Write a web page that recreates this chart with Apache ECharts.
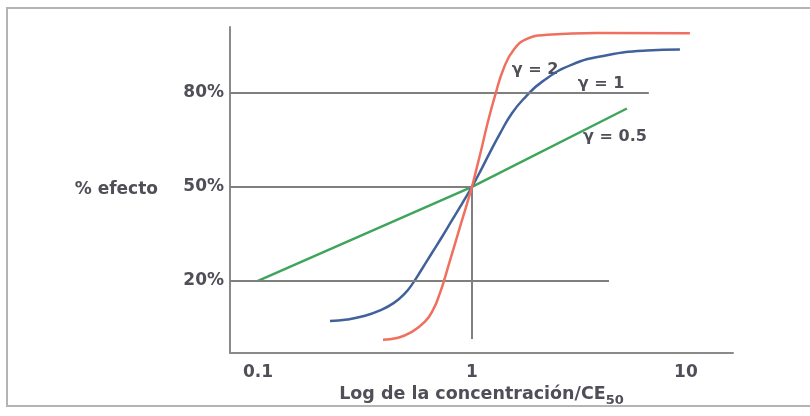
<!DOCTYPE html>
<html>
<head>
<meta charset="utf-8">
<script src="https://cdn.jsdelivr.net/npm/echarts@6/dist/echarts.min.js"></script>
<style>html,body{margin:0;padding:0;background:#fff;}#c{width:810px;height:416px;}</style>
</head>
<body>
<div id="c"></div>
<script>
// Axis extents
const xMin = 0.074, xMax = 16.6;
const yMin = -3, yMax = 101;

// gamma = 1 (blue)
const blueConc = [0.217,0.261,0.313,0.372,0.432,0.486,0.530,0.584,0.650,0.724,0.806,0.898,1,1.114,1.214,1.352,1.538,1.769,2.124,2.934,4.274,6.573,9.376];
const blueEff  = [7.2,7.7,8.8,10.6,13.0,16.0,19.3,23.8,28.9,34.0,39.3,44.6,50,56.0,61.0,67.0,73.5,78.5,83.5,89.0,92.0,93.5,93.8];
// gamma = 2 (red)
const redConc = [0.384,0.446,0.513,0.603,0.664,0.709,0.740,0.781,0.833,0.888,0.948,1,1.055,1.114,1.175,1.281,1.411,1.571,1.807,2.242,3.838,10.44];
const redEff  = [1.2,1.8,3.4,7.0,11.3,16.2,20,25.4,31.8,38.2,44.6,50,56.3,62.8,69.5,79.0,88.0,93.8,97.2,98.5,99.1,99.0];
// gamma = 0.5 (green)
const greenConc = [0.1,1,5.3];
const greenEff  = [20,50,75];

// reference lines
const refLevels = [80,50,20];
const refEnds   = [6.71,1,4.37];
const refLabels = ['80%','50%','20%'];
const vLineBottom = 1.5;

const gammaLabels = ['γ = 2','γ = 1','γ = 0.5'];
const xTitle = 'Log de la concentración/CE';
const xTitleSub = '50';
const yTitle = '% efecto';

const pairs = (xs, ys) => xs.map((x,i)=>[x, ys[i]]);
const txtFont = '"DejaVu Sans", sans-serif';
const txtColor = '#4f4f58';

const refData = refLevels.map((lv,i)=>[
  {coord:[xMin, lv], label:{show:true, position:'start', formatter: refLabels[i], distance: 6,
     color: txtColor, fontFamily: txtFont, fontWeight:'bold', fontSize: 17}},
  {coord:[refEnds[i], lv]}
]);
refData.push([{coord:[1, 50], label:{show:false}}, {coord:[1, vLineBottom]}]);

const chart = echarts.init(document.getElementById('c'));
chart.setOption({
  animation: false,
  backgroundColor: '#fff',
  grid: {left: 230, right: 77, top: 27, bottom: 63},
  xAxis: {
    type: 'log', min: xMin, max: xMax, logBase: 10,
    axisLine: {onZero: false, lineStyle: {color: '#8a8a8a', width: 2}},
    axisTick: {show: false}, minorTick: {show: false}, splitLine: {show: false},
    axisLabel: {showMinLabel: false, showMaxLabel: false, margin: 11,
      color: txtColor, fontFamily: txtFont, fontWeight: 'bold', fontSize: 17},
    name: '{a|' + xTitle + '}{s|' + xTitleSub + '}',
    nameLocation: 'middle', nameGap: 29,
    nameTextStyle: {rich: {
      a: {fontFamily: txtFont, fontSize: 17.5, fontWeight: 'bold', color: txtColor, lineHeight: 24, verticalAlign: 'middle'},
      s: {fontFamily: txtFont, fontSize: 13, fontWeight: 'bold', color: txtColor, lineHeight: 12, verticalAlign: 'bottom'}
    }}
  },
  yAxis: {
    type: 'value', min: yMin, max: yMax,
    axisLine: {show: true, onZero: false, lineStyle: {color: '#8a8a8a', width: 2}},
    axisTick: {show: false}, axisLabel: {show: false}, splitLine: {show: false},
    name: yTitle, nameLocation: 'middle', nameRotate: 0, nameGap: 72,
    nameTextStyle: {fontFamily: txtFont, fontWeight: 'bold', fontSize: 17, color: txtColor}
  },
  series: [
    {type: 'line', data: [], z: 1, silent: true,
     markLine: {silent: true, symbol: ['none','none'], animation: false,
       lineStyle: {color: '#7f7f7f', width: 2, type: 'solid'},
       emphasis: {disabled: true}, data: refData}},
    {name: 'g05', type: 'line', data: pairs(greenConc, greenEff), showSymbol: false, z: 3,
     lineStyle: {color: '#3fa55b', width: 2.5}},
    {name: 'g1', type: 'line', data: pairs(blueConc, blueEff), showSymbol: false, smooth: 0.5, z: 4,
     lineStyle: {color: '#41619b', width: 2.5}},
    {name: 'g2', type: 'line', data: pairs(redConc, redEff), showSymbol: false, smooth: 0.5, z: 5,
     lineStyle: {color: '#f0705f', width: 2.5}}
  ],
  graphic: [
    {type: 'rect', shape: {x: 7, y: 8, width: 830, height: 398}, style: {fill: 'none', stroke: '#b4b4b4', lineWidth: 2}, silent: true},
    {type: 'text', x: 535, y: 70, style: {text: gammaLabels[0], fill: txtColor, font: 'bold 16px ' + txtFont, align: 'center', verticalAlign: 'middle'}},
    {type: 'text', x: 601, y: 84, style: {text: gammaLabels[1], fill: txtColor, font: 'bold 16px ' + txtFont, align: 'center', verticalAlign: 'middle'}},
    {type: 'text', x: 615, y: 137, style: {text: gammaLabels[2], fill: txtColor, font: 'bold 16px ' + txtFont, align: 'center', verticalAlign: 'middle'}}
  ]
});
</script>
</body>
</html>
